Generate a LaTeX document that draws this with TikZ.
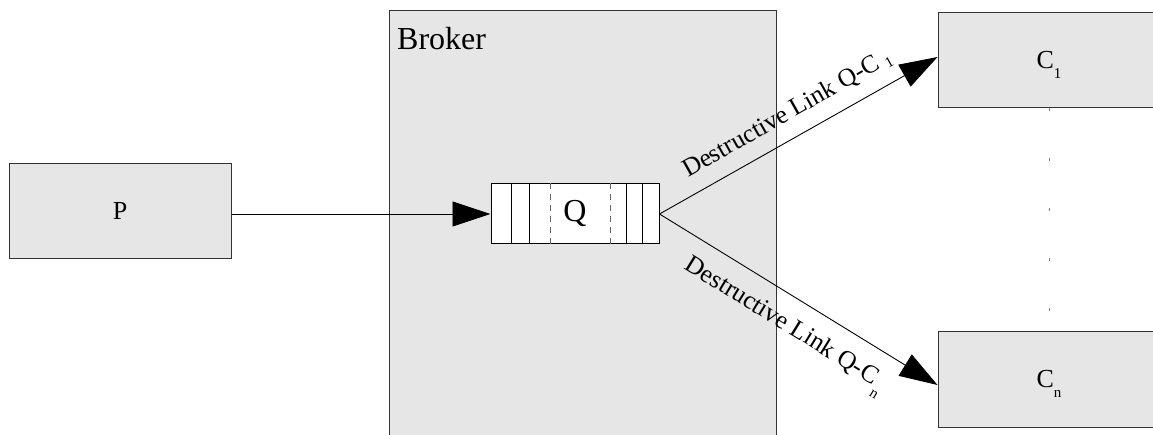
\documentclass[tikz,border=0pt]{standalone}
\usepackage{fontspec}
\setmainfont{Liberation Serif}
\usetikzlibrary{arrows.meta,calc}
\definecolor{boxfill}{HTML}{E6E6E6}
\definecolor{boxline}{HTML}{333333}
% lowered small index after a letter
\newcommand{\subidx}[2][10pt]{\smash{\raisebox{-#1}{\fontsize{15}{15}\selectfont #2}}}
\begin{document}
\begin{tikzpicture}[x=1pt,y=-1pt,
  grey box/.style={draw=boxline, line width=1pt, fill=boxfill, rectangle,
    minimum width=222pt, minimum height=95pt, inner sep=0pt,
    font=\fontsize{26}{30}\selectfont},
  queue box/.style={draw=black, line width=1pt, fill=white, rectangle,
    minimum width=168pt, minimum height=60pt, inner sep=0pt,
    font=\fontsize{32}{38}\selectfont},
  link/.style={draw=black, line width=0.9pt,
    -{Triangle[length=38pt,width=25pt]}},
  link label/.style={sloped, font=\fontsize{25.5}{30}\selectfont}
]
\useasboundingbox (0,0) rectangle (1153,435);

% broker area
\node[draw=boxline, line width=1pt, fill=boxfill, rectangle, inner sep=0pt,
  minimum width=387pt, minimum height=440pt, anchor=north west]
  (broker) at (389,10) {};
\node[anchor=base west, inner sep=0pt, font=\fontsize{32}{38}\selectfont]
  (brokerlabel) at ($(broker.north west)+(8,40)$) {Broker};

% producer and consumers
\node[grey box] (P) at (120,211) {P};
\node[grey box] (C1) at (1049,60.5) {C\subidx{1}};
\node[grey box] (Cn) at (1049,379.5) {C\subidx{n}};

% queue with its slots
\node[queue box] (Q) at (575,214) {Q};
\foreach \dx in {21,39,136,152}
  \draw[black, line width=1pt] ($(Q.north west)+(\dx,0)$) -- ($(Q.south west)+(\dx,0)$);
\foreach \dx in {60,120}
  \draw[black!60, line width=1pt, dash pattern=on 6pt off 5pt]
    ($(Q.north west)+(\dx,0)$) -- ($(Q.south west)+(\dx,0)$);

% consumers between C1 and Cn
\draw[gray, line width=1pt, dash pattern=on 3pt off 47pt] (C1.south) -- (Cn.north);

% links
\draw[link] (P.east |- Q.west) -- (Q.west);
\draw[link] (Q.east) -- ($(C1.west)+(0,-3.5)$)
  node[link label, above, inner sep=13pt, pos=0.503]
  {Destructive Link Q-C\hspace{6pt}\subidx[3pt]{1}};
\draw[link] (Q.east) -- ($(Cn.west)+(0,5.5)$)
  node[link label, below, inner sep=16pt, pos=0.505]
  {Destructive Link Q-C\hspace{2pt}\subidx[11pt]{n}};
\end{tikzpicture}
\end{document}
